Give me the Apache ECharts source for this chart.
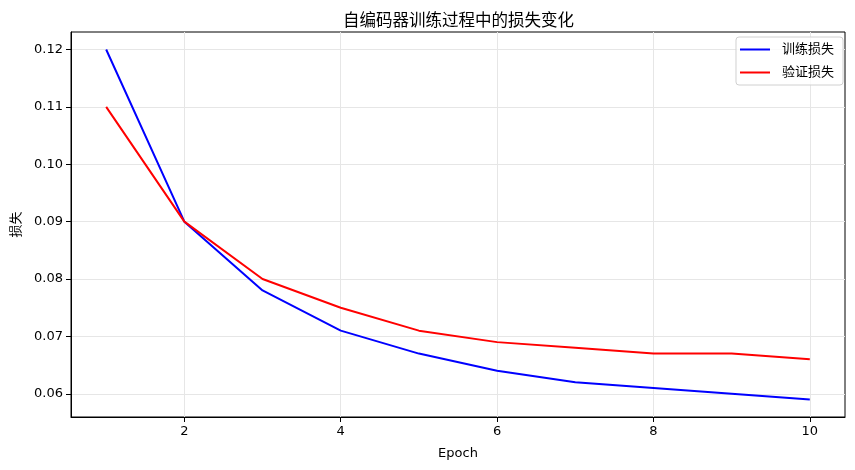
<!DOCTYPE html>
<html>
<head>
<meta charset="utf-8">
<script src="https://cdn.jsdelivr.net/npm/echarts@6/dist/echarts.min.js"></script>
<style>html,body{margin:0;padding:0;background:#fff;}#c{width:855px;height:470px;}</style>
</head>
<body>
<div id="c"></div>
<script>
const epochs = [1, 2, 3, 4, 5, 6, 7, 8, 9, 10];
const trainLoss = [0.120, 0.090, 0.078, 0.071, 0.067, 0.064, 0.062, 0.061, 0.060, 0.059];
const valLoss = [0.110, 0.090, 0.080, 0.075, 0.071, 0.069, 0.068, 0.067, 0.067, 0.066];
const xTicks = [2, 4, 6, 8, 10];
const yTicks = [0.06, 0.07, 0.08, 0.09, 0.10, 0.11, 0.12];
const seriesNames = ['训练损失', '验证损失'];

const FONT = 'DejaVu Sans, Noto Sans CJK SC, sans-serif';
const chart = echarts.init(document.getElementById('c'));
const pairs = a => epochs.map((e, i) => [e, a[i]]);
chart.setOption({
  animation: false,
  backgroundColor: '#fff',
  textStyle: { fontFamily: FONT },
  title: {
    text: '自编码器训练过程中的损失变化',
    left: 338, top: 8,
    textStyle: { fontFamily: FONT, fontSize: 16.5, fontWeight: 'normal', color: '#000' }
  },
  grid: { left: 71, right: 10, top: 32, bottom: 53, show: true, borderColor: '#000', borderWidth: 1, containLabel: false },
  legend: {
    orient: 'vertical', right: 12, top: 37,
    data: seriesNames,
    icon: 'rect', itemWidth: 30, itemHeight: 2, itemGap: 10,
    padding: [6, 9, 6, 4],
    borderColor: '#d0d0d0', borderWidth: 1, borderRadius: 3,
    backgroundColor: 'rgba(255,255,255,0.8)',
    textStyle: { fontFamily: FONT, fontSize: 13, color: '#000', padding: [0, 0, 0, 7] }
  },
  xAxis: {
    type: 'value', min: 0.55, max: 10.45,
    name: 'Epoch', nameLocation: 'middle', nameGap: 30,
    nameTextStyle: { fontFamily: FONT, fontSize: 13, color: '#000' },
    axisLine: { show: true, lineStyle: { color: '#000', width: 1 } },
    axisTick: { show: true, inside: false, length: 5, customValues: xTicks, lineStyle: { color: '#000' } },
    axisLabel: { customValues: xTicks, margin: 8, fontSize: 13, color: '#000', fontFamily: FONT },
    splitLine: { show: true, lineStyle: { color: '#e6e6e6', width: 1 } }
  },
  yAxis: {
    type: 'value', min: 0.05595, max: 0.12305,
    name: '损失', nameLocation: 'middle', nameGap: 48, nameRotate: 90,
    nameTextStyle: { fontFamily: FONT, fontSize: 13, color: '#000' },
    axisLine: { show: true, lineStyle: { color: '#000', width: 1 } },
    axisTick: { show: true, inside: false, length: 5, customValues: yTicks, lineStyle: { color: '#000' } },
    axisLabel: { customValues: yTicks, margin: 8, fontSize: 13, color: '#000', fontFamily: FONT,
      formatter: v => v.toFixed(2) },
    splitLine: { show: true, lineStyle: { color: '#e6e6e6', width: 1 } }
  },
  series: [
    { name: seriesNames[0], type: 'line', data: pairs(trainLoss), showSymbol: false, symbol: 'none',
      lineStyle: { color: '#0000ff', width: 2 }, itemStyle: { color: '#0000ff' } },
    { name: seriesNames[1], type: 'line', data: pairs(valLoss), showSymbol: false, symbol: 'none',
      lineStyle: { color: '#ff0000', width: 2 }, itemStyle: { color: '#ff0000' } }
  ]
});
</script>
</body>
</html>
